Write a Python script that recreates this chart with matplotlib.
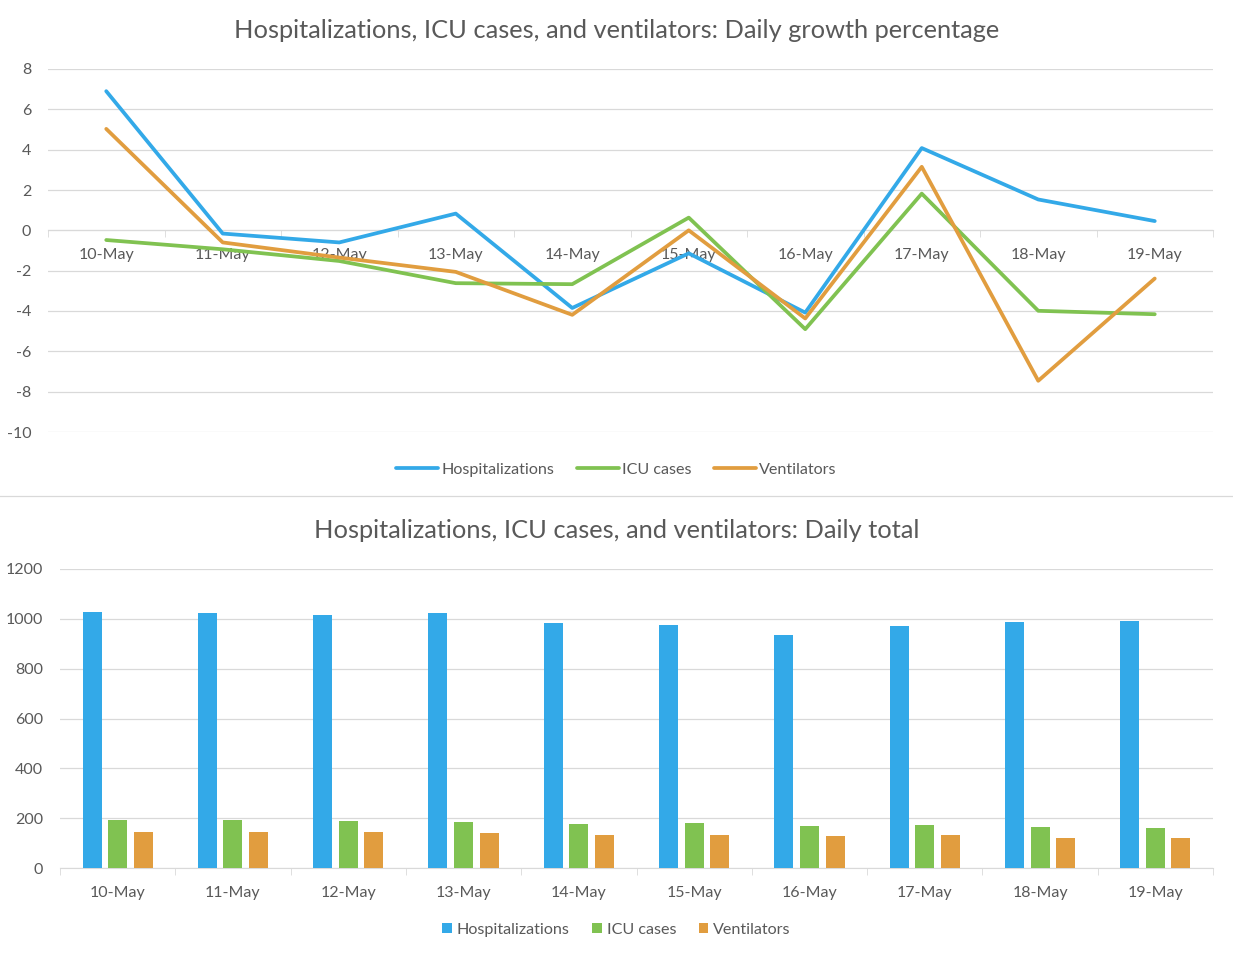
import numpy as np
import matplotlib.pyplot as plt
from matplotlib.ticker import FixedLocator

plt.rcParams['font.family'] = ['Lato', 'DejaVu Sans']
plt.rcParams['axes.unicode_minus'] = False

dates = ['10-May', '11-May', '12-May', '13-May', '14-May',
         '15-May', '16-May', '17-May', '18-May', '19-May']
series_names = ['Hospitalizations', 'ICU cases', 'Ventilators']
colors = ['#33a9e8', '#80c251', '#e19d3f']

# daily growth percentage
hosp_growth = [6.9, -0.16, -0.6, 0.83, -3.85, -1.14, -4.08, 4.08, 1.53, 0.46]
icu_growth = [-0.48, -0.94, -1.52, -2.62, -2.67, 0.63, -4.9, 1.82, -3.99, -4.16]
vent_growth = [5.03, -0.6, -1.35, -2.06, -4.19, 0.0, -4.37, 3.15, -7.46, -2.39]

# daily totals
hosp_total = [1029, 1025, 1017, 1025, 985, 977, 937, 973, 989, 993]
icu_total = [194, 194, 190, 186, 178, 182, 170, 174, 166, 162]
vent_total = [146, 146, 146, 142, 134, 134, 130, 134, 122, 122]

text_col = '#595959'
grid_col = '#d9d9d9'

W, H = 1233, 956
fig = plt.figure(figsize=(W / 100, H / 100), dpi=100)

def fx(px):
    return px / W

def fy(py):
    return 1 - py / H

x = np.arange(len(dates))

# ---------- top: growth lines ----------
ax1 = fig.add_axes([fx(48), fy(432), fx(1213) - fx(48), fy(69) - fy(432)])
for vals, name, col in zip([hosp_growth, icu_growth, vent_growth], series_names, colors):
    ax1.plot(x, vals, color=col, lw=2.7, label=name, solid_capstyle='round', zorder=3)
ax1.set_xlim(-0.5, len(dates) - 0.5)
ax1.set_ylim(-10, 8)
ax1.set_yticks(np.arange(-10, 9, 2))
ax1.yaxis.grid(True, color=grid_col, lw=0.9)
ax1.set_axisbelow(True)
for s in ['top', 'right', 'left']:
    ax1.spines[s].set_visible(False)
ax1.spines['bottom'].set_position(('data', 0))
ax1.spines['bottom'].set_color(grid_col)
ax1.set_xticks(x)
ax1.set_xticklabels(dates)
ax1.xaxis.set_minor_locator(FixedLocator(np.arange(-0.5, len(dates), 1)))
ax1.tick_params(axis='x', which='major', length=0, pad=13, labelsize=11.5, labelcolor=text_col)
ax1.tick_params(axis='x', which='minor', length=5, color=grid_col, direction='out')
ax1.tick_params(axis='y', length=0, pad=12, labelsize=11.5, labelcolor=text_col)
fig.text(0.5, fy(30), 'Hospitalizations, ICU cases, and ventilators: Daily growth percentage',
         ha='center', va='center', fontsize=18.3, color=text_col)
fig.legend(*ax1.get_legend_handles_labels(), loc='center', bbox_to_anchor=(0.5, fy(470)),
           ncol=3, frameon=False, fontsize=11.6, labelcolor=text_col,
           handlelength=2.6, handletextpad=0.2, columnspacing=1.4)

# separator between the two charts
fig.add_artist(plt.Line2D([0, 1], [fy(496), fy(496)], color=grid_col, lw=0.9))

# ---------- bottom: daily totals ----------
ax2 = fig.add_axes([fx(60), fy(868), fx(1213) - fx(60), fy(569) - fy(868)])
bw = 0.165
off = 0.222
for k, (vals, name, col) in enumerate(zip([hosp_total, icu_total, vent_total], series_names, colors)):
    ax2.bar(x + (k - 1) * off, vals, width=bw, color=col, label=name, zorder=3)
ax2.set_xlim(-0.5, len(dates) - 0.5)
ax2.set_ylim(0, 1200)
ax2.set_yticks(np.arange(0, 1201, 200))
ax2.yaxis.grid(True, color=grid_col, lw=0.9)
ax2.set_axisbelow(True)
for s in ['top', 'right', 'left']:
    ax2.spines[s].set_visible(False)
ax2.spines['bottom'].set_color(grid_col)
ax2.set_xticks(x)
ax2.set_xticklabels(dates)
ax2.xaxis.set_minor_locator(FixedLocator(np.arange(-0.5, len(dates), 1)))
ax2.tick_params(axis='x', which='major', length=0, pad=13, labelsize=11.5, labelcolor=text_col)
ax2.tick_params(axis='x', which='minor', length=5, color=grid_col, direction='out')
ax2.tick_params(axis='y', length=0, pad=12, labelsize=11.5, labelcolor=text_col)
fig.text(0.5, fy(530), 'Hospitalizations, ICU cases, and ventilators: Daily total',
         ha='center', va='center', fontsize=18.3, color=text_col)
fig.legend(*ax2.get_legend_handles_labels(), loc='center', bbox_to_anchor=(0.5, fy(930)),
           ncol=3, frameon=False, fontsize=11.6, labelcolor=text_col,
           handlelength=0.6, handleheight=0.6, handletextpad=0.3, columnspacing=1.4)

fig.savefig('out.png', dpi=100)
